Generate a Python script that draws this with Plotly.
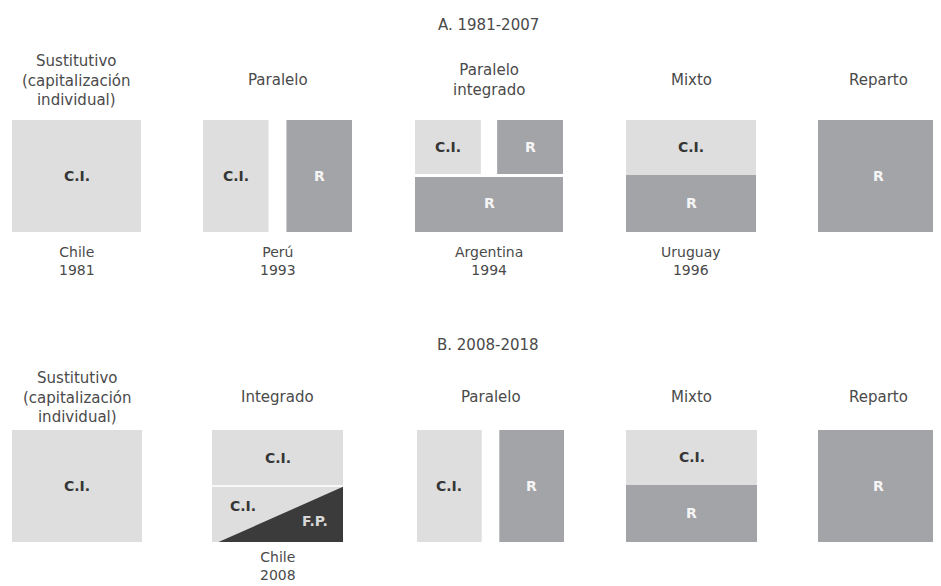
import plotly.graph_objects as go

# ---------------- data ----------------
panel_titles = ["A. 1981-2007", "B. 2008-2018"]

schemes_a = ["Sustitutivo<br>(capitalización<br>individual)", "Paralelo",
             "Paralelo<br>integrado", "Mixto", "Reparto"]
countries_a = ["Chile<br>1981", "Perú<br>1993", "Argentina<br>1994", "Uruguay<br>1996", ""]
designs_a = ["CI", "CI|R", "CI|R/R", "CI/R", "R"]

schemes_b = ["Sustitutivo<br>(capitalización<br>individual)", "Integrado",
             "Paralelo", "Mixto", "Reparto"]
countries_b = ["", "Chile<br>2008", "", "", ""]
designs_b = ["CI", "CI/CI+FP", "CI|R", "CI/R", "R"]

label_ci = "C.I."
label_r = "R"
label_fp = "F.P."

# ---------------- layout / style ----------------
W, H = 941, 586
PAD = 8  # default page margin of the html body
FONT = "DejaVu Sans"
C_CI = "#dedede"
C_R = "#a3a4a8"
C_FP = "#3b3b3b"
T_HEAD = "#4a4a4a"
T_CI = "#363636"
T_R = "#f5f5f5"
FS = 14

rows = [
    dict(title_y=25, head_y=80, top=120, bot=232, country_y=261,
         cols=[(12, 141), (203, 352), (415, 563), (626, 756), (818, 939)],
         schemes=schemes_a, countries=countries_a, designs=designs_a),
    dict(title_y=345, head_y=397, top=430, bot=542, country_y=566,
         cols=[(12, 142), (212, 343), (417, 564), (626, 757), (818, 939)],
         schemes=schemes_b, countries=countries_b, designs=designs_b),
]

fig = go.Figure()
annotations = []


def poly(xs, ys, color):
    fig.add_trace(go.Scatter(x=xs + [xs[0]], y=ys + [ys[0]], fill="toself",
                             fillcolor=color, mode="lines", line=dict(width=0),
                             hoverinfo="skip", showlegend=False))


def rect(x0, x1, y0, y1, color):
    poly([x0, x1, x1, x0], [y0, y0, y1, y1], color)


def txt(x, y, s, color, size=FS, bold=False):
    annotations.append(dict(x=x, y=y, xref="x", yref="y", text=(f"<b>{s}</b>" if bold else s),
                            showarrow=False, font=dict(family=FONT, size=size, color=color),
                            xanchor="center", yanchor="middle"))


for ti, row in enumerate(rows):
    txt(488, row["title_y"], panel_titles[ti], T_HEAD, size=15)
    top, bot = row["top"], row["bot"]
    mid = (top + bot) / 2
    for (x0, x1), scheme, country, design in zip(row["cols"], row["schemes"],
                                                 row["countries"], row["designs"]):
        cx = (x0 + x1) / 2
        w = x1 - x0
        txt(cx, row["head_y"], scheme, T_HEAD, size=15)
        if country:
            txt(cx, row["country_y"], country, T_HEAD, size=14)
        if design == "CI":
            rect(x0, x1, top, bot, C_CI)
            txt(cx, mid, label_ci, T_CI, bold=True)
        elif design == "R":
            rect(x0, x1, top, bot, C_R)
            txt(cx, mid, label_r, T_R, bold=True)
        elif design == "CI|R":
            gap = 0.12 * w
            a1 = x0 + (w - gap) / 2
            rect(x0, a1, top, bot, C_CI)
            rect(a1 + gap, x1, top, bot, C_R)
            txt((x0 + a1) / 2, mid, label_ci, T_CI, bold=True)
            txt((a1 + gap + x1) / 2, mid, label_r, T_R, bold=True)
        elif design == "CI|R/R":
            gap = 0.11 * w
            a1 = x0 + (w - gap) / 2
            ys = top + 0.49 * (bot - top)
            rect(x0, a1, top, ys - 1, C_CI)
            rect(a1 + gap, x1, top, ys - 1, C_R)
            rect(x0, x1, ys + 2, bot, C_R)
            txt((x0 + a1) / 2, (top + ys) / 2, label_ci, T_CI, bold=True)
            txt((a1 + gap + x1) / 2, (top + ys) / 2, label_r, T_R, bold=True)
            txt(cx, (ys + bot) / 2, label_r, T_R, bold=True)
        elif design == "CI/R":
            ys = top + 0.49 * (bot - top)
            rect(x0, x1, top, ys, C_CI)
            rect(x0, x1, ys, bot, C_R)
            txt(cx, (top + ys) / 2, label_ci, T_CI, bold=True)
            txt(cx, (ys + bot) / 2, label_r, T_R, bold=True)
        elif design == "CI/CI+FP":
            ys = top + 0.5 * (bot - top)
            rect(x0, x1, top, ys - 0.8, C_CI)
            rect(x0, x1, ys + 0.8, bot, C_CI)
            poly([x0 + 0.05 * w, x1, x1], [bot, ys + 0.8, bot], C_FP)
            txt(cx, (top + ys) / 2, label_ci, T_CI, bold=True)
            txt(x0 + 0.24 * w, ys + 0.36 * (bot - ys), label_ci, T_CI, bold=True)
            txt(x0 + 0.79 * w, ys + 0.62 * (bot - ys), label_fp, "#d8d8d8", bold=True)

fig.update_layout(
    width=W - PAD, height=H - PAD, margin=dict(l=0, r=0, t=0, b=0),
    paper_bgcolor="white", plot_bgcolor="white",
    xaxis=dict(range=[PAD, W], visible=False, fixedrange=True),
    yaxis=dict(range=[H, PAD], visible=False, fixedrange=True),
    annotations=annotations, showlegend=False,
)

fig.write_html("out.html", config={"displayModeBar": False})
